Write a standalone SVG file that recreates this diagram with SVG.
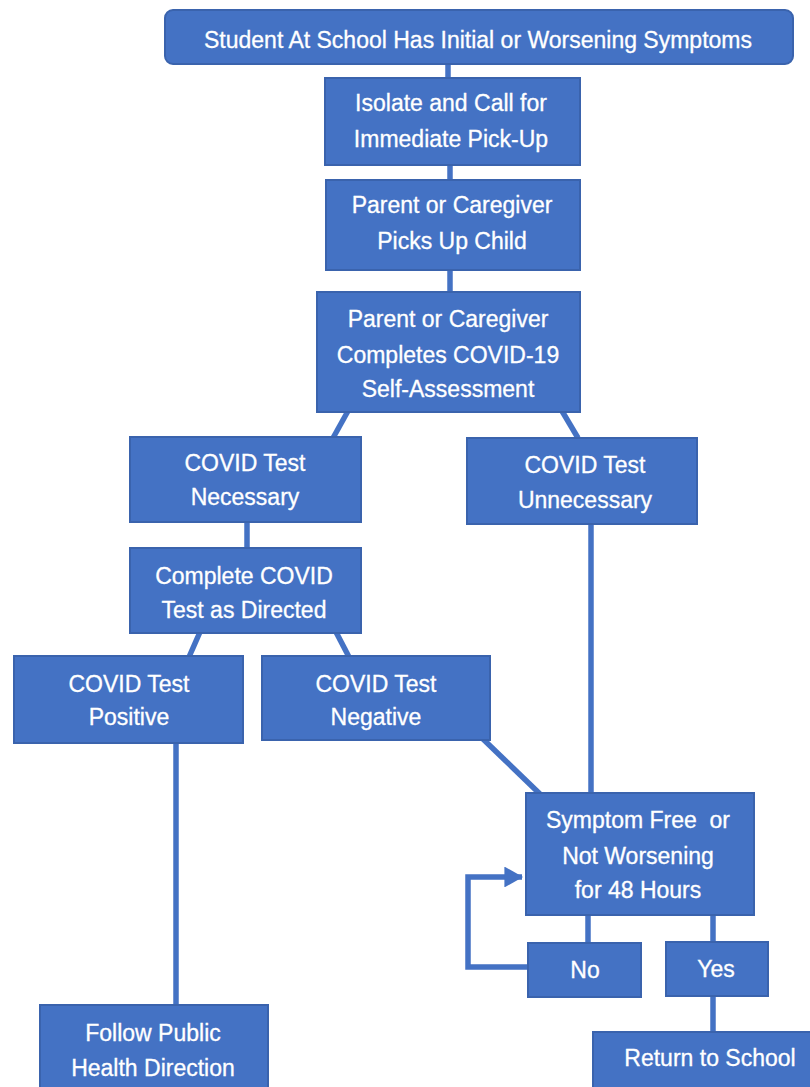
<svg xmlns="http://www.w3.org/2000/svg" width="810" height="1087" viewBox="0 0 810 1087">
<defs>
<style>
.box{fill:#4472C4;stroke:#3A63AD;stroke-width:2}
.t{font-family:"Liberation Sans",Arial,sans-serif;font-size:23px;fill:#FFFFFF;text-anchor:middle;stroke:#FFFFFF;stroke-width:0.3}
.c{stroke:#4472C4;stroke-width:5.5;fill:none}
</style>
<marker id="ah" markerWidth="3.4" markerHeight="3.8" refX="3.2" refY="1.9" orient="auto" markerUnits="strokeWidth">
<path d="M0,0 L3.4,1.9 L0,3.8 Z" fill="#4472C4"/>
</marker>
</defs>
<rect width="810" height="1087" fill="#FFFFFF"/>
<g id="connectors">
<line class="c" x1="448" y1="64" x2="448" y2="79"/>
<line class="c" x1="450" y1="165" x2="450" y2="181"/>
<line class="c" x1="450" y1="270" x2="450" y2="293"/>
<line class="c" x1="348" y1="411" x2="333" y2="438"/>
<line class="c" x1="562" y1="411" x2="578" y2="438"/>
<line class="c" x1="247" y1="522" x2="247" y2="549"/>
<line class="c" x1="200" y1="632" x2="189" y2="657"/>
<line class="c" x1="336" y1="632" x2="349" y2="657"/>
<line class="c" x1="591" y1="524" x2="591" y2="794"/>
<line class="c" x1="483" y1="739" x2="540" y2="794"/>
<line class="c" x1="176" y1="743" x2="176" y2="1006"/>
<line class="c" x1="588" y1="915" x2="588" y2="944"/>
<line class="c" x1="713" y1="915" x2="713" y2="943"/>
<line class="c" x1="713" y1="996" x2="713" y2="1033"/>
<polyline class="c" points="529,967 468,967 468,877 522,877" marker-end="url(#ah)"/>
</g>
<g id="n1"><rect class="box" x="165" y="10" width="628" height="54" rx="8"/><text class="t" x="478" y="48">Student At School Has Initial or Worsening Symptoms</text></g>
<g id="n2"><rect class="box" x="325" y="78" width="255" height="87"/><text class="t" x="451" y="111">Isolate and Call for</text><text class="t" x="451" y="147">Immediate Pick-Up</text></g>
<g id="n3"><rect class="box" x="326" y="180" width="254" height="90"/><text class="t" x="452" y="213">Parent or Caregiver</text><text class="t" x="452" y="249">Picks Up Child</text></g>
<g id="n4"><rect class="box" x="317" y="292" width="263" height="120"/><text class="t" x="448" y="327">Parent or Caregiver</text><text class="t" x="448" y="363">Completes COVID-19</text><text class="t" x="448" y="397">Self-Assessment</text></g>
<g id="n5"><rect class="box" x="130" y="437" width="231" height="85"/><text class="t" x="245" y="471">COVID Test</text><text class="t" x="245" y="505">Necessary</text></g>
<g id="n6"><rect class="box" x="467" y="438" width="230" height="86"/><text class="t" x="585" y="473">COVID Test</text><text class="t" x="585" y="508">Unnecessary</text></g>
<g id="n7"><rect class="box" x="130" y="548" width="231" height="85"/><text class="t" x="244" y="584">Complete COVID</text><text class="t" x="244" y="618">Test as Directed</text></g>
<g id="n8"><rect class="box" x="14" y="656" width="229" height="87"/><text class="t" x="129" y="692">COVID Test</text><text class="t" x="129" y="725">Positive</text></g>
<g id="n9"><rect class="box" x="262" y="656" width="228" height="84"/><text class="t" x="376" y="692">COVID Test</text><text class="t" x="376" y="725">Negative</text></g>
<g id="n10"><rect class="box" x="526" y="793" width="228" height="122"/><text class="t" x="638" y="828" style="white-space:pre">Symptom Free  or</text><text class="t" x="638" y="864">Not Worsening</text><text class="t" x="638" y="898">for 48 Hours</text></g>
<g id="n11"><rect class="box" x="528" y="943" width="113" height="54"/><text class="t" x="585" y="978">No</text></g>
<g id="n12"><rect class="box" x="666" y="942" width="102" height="54"/><text class="t" x="716" y="977">Yes</text></g>
<g id="n13"><rect class="box" x="593" y="1032" width="225" height="60"/><text class="t" x="710" y="1066">Return to School</text></g>
<g id="n14"><rect class="box" x="40" y="1005" width="228" height="88"/><text class="t" x="153" y="1041">Follow Public</text><text class="t" x="153" y="1076">Health Direction</text></g>
</svg>
